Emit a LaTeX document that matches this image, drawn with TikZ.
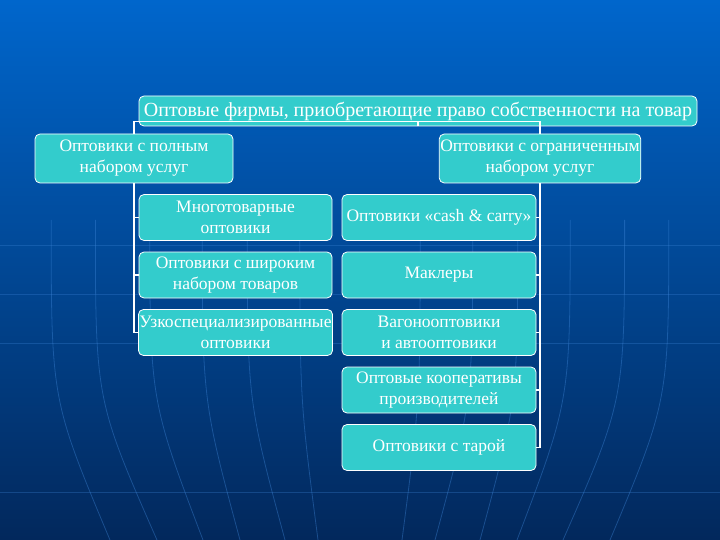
\documentclass[tikz,border=0pt]{standalone}
\usepackage{fontspec}
\setmainfont{Liberation Serif}
\usetikzlibrary{positioning}

\definecolor{bgtop}{HTML}{0066CC}
\definecolor{bgmid}{HTML}{0550A8}
\definecolor{bgbot}{HTML}{02285C}
\definecolor{boxfill}{HTML}{33CCCC}
\definecolor{deco}{HTML}{3E86D8}

\begin{document}
\begin{tikzpicture}[x=1pt, y=-1pt,
      % Define the style of the turquoise boxes
      box/.style={rectangle, rounded corners=5pt, draw=white, line width=0.8pt,
                  fill=boxfill, text=white, align=center, inner sep=1pt,
                  font=\fontsize{17.5}{21}\selectfont},
      % Define the style of the tree lines
      link/.style={draw=white, line width=1.3pt},
      % Define the style of the background ornament
      ornament/.style={draw=deco, line width=0.8pt, opacity=0.4}
      ]

      % Background
      \useasboundingbox (0,0) rectangle (720,540);
      \shade[top color=bgtop, middle color=bgmid, bottom color=bgbot] (0,0) rectangle (720,540);
      \foreach \y in {245, 294, 343, 492} {
        \draw[ornament, opacity=0.3] (0,\y) -- (720,\y);
      }
      \foreach \a/\b in {68/110, 113/157, 165/203, 213/240, 258/285, 305/318} {
        \draw[ornament] ({\a-(\b-\a)*0.4},220) .. controls ({\a-(\b-\a)*0.4},400) .. (\b,540);
        \draw[ornament] ({720-\a+(\b-\a)*0.4},220) .. controls ({720-\a+(\b-\a)*0.4},400) .. ({720-\b},540);
      }

      % Top node
      \node[box, minimum width=558pt, minimum height=30pt,
            font=\fontsize{20}{22}\selectfont] (firms) at (418,111)
        {Оптовые фирмы, приобретающие право собственности на товар};

      % Second level
      \node[box, minimum width=198pt, minimum height=49pt] (full) at (134,158.5)
        {Оптовики с полным\\набором услуг};
      \node[box, minimum width=198pt, minimum height=49pt] (limited) at (540,158.5)
        {Оптовики с ограниченным\\набором услуг};

      % Full service wholesalers
      \foreach \i/\info in {1/{Многотоварные\\оптовики},
                            2/{Оптовики с широким\\набором товаров},
                            3/{Узкоспециализированные\\оптовики}} {
        \node[box, minimum width=193pt, minimum height=46pt] (left\i) at (235.5,{217.5+57.5*(\i-1)}) {\info};
      }

      % Limited service wholesalers
      \foreach \i/\info in {1/{Оптовики «cash \& carry»},
                            2/{Маклеры},
                            3/{Вагонооптовики\\и автооптовики},
                            4/{Оптовые кооперативы\\производителей},
                            5/{Оптовики с тарой}} {
        \node[box, minimum width=194pt, minimum height=46pt] (right\i) at (439,{217.5+57.5*(\i-1)}) {\info};
      }

      % Connect the nodes
      \coordinate (split) at ([yshift=5pt]firms.south);
      \draw[link] (firms.south) -- (split);
      \draw[link] (split) -| (full.north);
      \draw[link] (split) -| (limited.north);
      \foreach \i in {1, ..., 3} {
        \draw[link] (full.south) |- (left\i.west);
      }
      \foreach \i in {1, ..., 5} {
        \draw[link] (limited.south) |- (right\i.east);
      }
\end{tikzpicture}
\end{document}
